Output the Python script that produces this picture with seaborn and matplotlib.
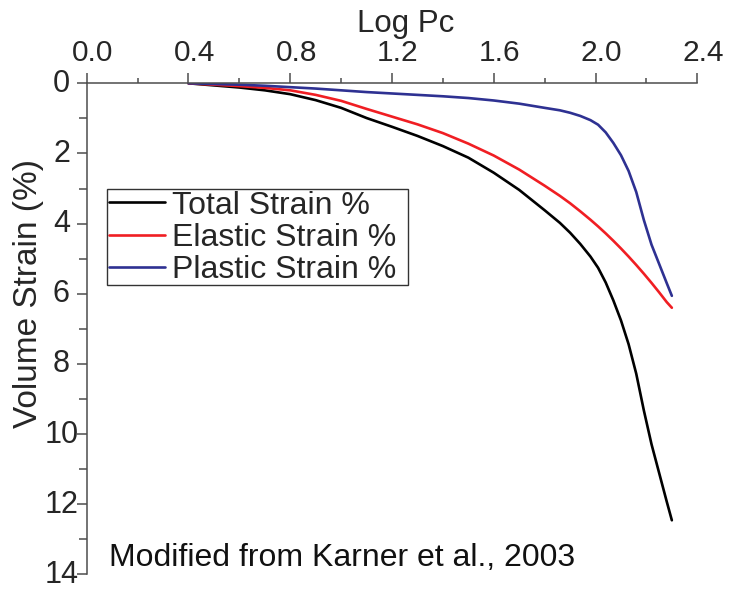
import numpy as np
import pandas as pd
import matplotlib
matplotlib.use("Agg")
import matplotlib.pyplot as plt
import matplotlib.transforms as mtransforms
from matplotlib.patches import Rectangle
from matplotlib.ticker import MultipleLocator
import seaborn as sns

# Log of confining pressure (shared sample points)
log_pc = [0.40, 0.50, 0.60, 0.70, 0.80, 0.90, 1.00, 1.10, 1.20, 1.30,
          1.40, 1.50, 1.60, 1.70, 1.80, 1.86, 1.90, 1.94, 1.98, 2.01,
          2.04, 2.07, 2.10, 2.13, 2.16, 2.19, 2.22, 2.25, 2.28, 2.30]

# Volume strain (%) for each component
total_strain = [0.00, 0.06, 0.12, 0.20, 0.31, 0.48, 0.70, 0.99, 1.24, 1.50,
                1.79, 2.12, 2.55, 3.04, 3.62, 3.98, 4.26, 4.58, 4.94, 5.26,
                5.68, 6.19, 6.76, 7.44, 8.28, 9.33, 10.29, 11.11, 11.93, 12.46]
elastic_strain = [0.00, 0.04, 0.08, 0.13, 0.20, 0.33, 0.50, 0.73, 0.95, 1.17,
                  1.42, 1.72, 2.06, 2.46, 2.92, 3.21, 3.42, 3.65, 3.89, 4.08,
                  4.28, 4.49, 4.71, 4.94, 5.18, 5.43, 5.69, 5.96, 6.24, 6.40]
plastic_strain = [0.00, 0.02, 0.04, 0.07, 0.11, 0.15, 0.20, 0.25, 0.29, 0.33,
                  0.37, 0.42, 0.49, 0.58, 0.70, 0.77, 0.84, 0.93, 1.05, 1.18,
                  1.40, 1.70, 2.05, 2.50, 3.10, 3.90, 4.60, 5.15, 5.70, 6.06]

series_names = ["Total Strain %", "Elastic Strain %", "Plastic Strain %"]
series_colors = ["#000000", "#f01e23", "#2e3192"]

x_ticks = [0.0, 0.4, 0.8, 1.2, 1.6, 2.0, 2.4]
x_tick_labels = ["0.0", "0.4", "0.8", "1.2", "1.6", "2.0", "2.4"]
y_ticks = [0, 2, 4, 6, 8, 10, 12, 14]

frames = []
for name, vals in zip(series_names, [total_strain, elastic_strain, plastic_strain]):
    frames.append(pd.DataFrame({"Log Pc": log_pc, "strain": vals, "series": name}))
df = pd.concat(frames, ignore_index=True)

sns.set_style("ticks")
plt.rcParams["font.family"] = ["Liberation Sans", "DejaVu Sans"]

fig = plt.figure(figsize=(7.3, 5.9), dpi=100)
ax = fig.add_axes([0.1188, 0.0266, 0.8364, 0.8322])

sns.lineplot(data=df, x="Log Pc", y="strain", hue="series",
             hue_order=series_names, palette=series_colors,
             estimator=None, linewidth=1.9, ax=ax)

ax.set_xlim(0.0, 2.4)
ax.set_ylim(14, 0)

ax.xaxis.tick_top()
ax.set_xticks(x_ticks)
ax.set_xticklabels(x_tick_labels)
ax.xaxis.set_minor_locator(MultipleLocator(0.2))
ax.set_yticks(y_ticks)
ax.yaxis.set_minor_locator(MultipleLocator(1))

# axis titles
ax.set_xlabel("Log Pc", fontsize=22.5)
ax.xaxis.set_label_coords(0.523, 1.1045)
ax.xaxis.label.set_va("baseline")
ax.set_ylabel("Volume Strain (%)", fontsize=24)
ax.yaxis.set_label_coords(-0.0953, 0.571)
ax.yaxis.label.set_va("center")

spine_color = "#4d4d4d"
for side in ["right", "bottom"]:
    ax.spines[side].set_visible(False)
for side in ["left", "top"]:
    ax.spines[side].set_color(spine_color)
    ax.spines[side].set_linewidth(1.1)

ax.tick_params(axis="x", which="major", direction="out", length=7, width=1.1,
               color=spine_color, labelsize=21.5, pad=4.5)
ax.tick_params(axis="x", which="minor", direction="out", length=3.6, width=1.1,
               color=spine_color)
ax.tick_params(axis="y", which="major", direction="out", length=7, width=1.1,
               color=spine_color, labelsize=22, pad=11.2)
ax.tick_params(axis="y", which="minor", direction="out", length=6, width=1.1,
               color=spine_color)

# top tick labels sit slightly right of their ticks; left labels are centred
# and raised a little
x_shift = mtransforms.ScaledTranslation(6 / 100, 0, fig.dpi_scale_trans)
for lbl in ax.get_xticklabels():
    lbl.set_transform(lbl.get_transform() + x_shift)
y_shift = mtransforms.ScaledTranslation(0, 3 / 100, fig.dpi_scale_trans)
for lbl in ax.get_yticklabels():
    lbl.set_horizontalalignment("center")
    lbl.set_transform(lbl.get_transform() + y_shift)

# legend box drawn separately so its padding can be set exactly
ax.add_patch(Rectangle((0.0332, 0.5892), 0.4922, 0.1955, transform=ax.transAxes,
                       facecolor="white", edgecolor="#333333", linewidth=1.0,
                       zorder=4))
leg = ax.legend(loc="upper left", bbox_to_anchor=(0.0332, 0.7847),
                borderaxespad=0, fontsize=23, frameon=False,
                handlelength=1.77, handletextpad=0.23, labelspacing=0.066,
                borderpad=0.05)
leg.set_zorder(5)
for line in leg.get_lines():
    line.set_linewidth(1.9)

ax.text(0.037, 0.017, "Modified from Karner et al., 2003", transform=ax.transAxes,
        fontsize=23, ha="left", va="baseline", color="#111111")

fig.savefig("out.png", dpi=100)
